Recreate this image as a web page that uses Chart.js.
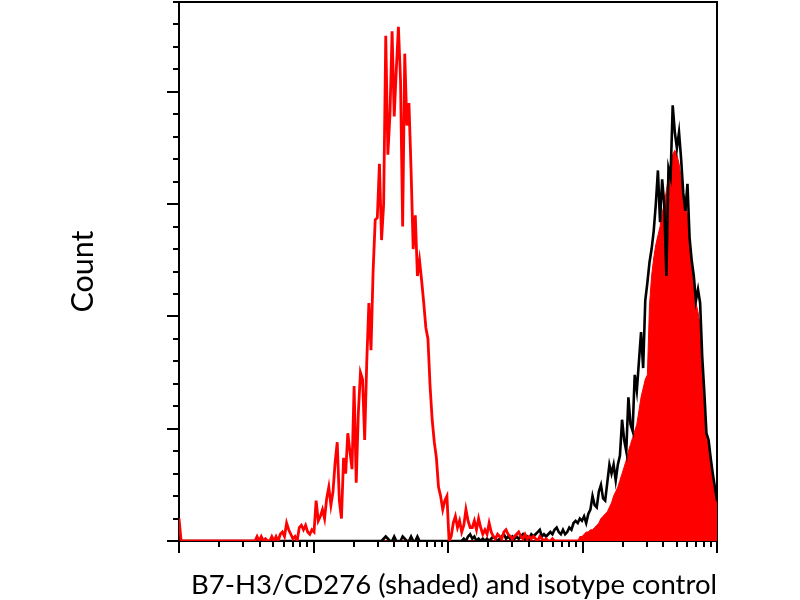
<!DOCTYPE html>
<html>
<head>
<meta charset="utf-8">
<title>B7-H3/CD276 histogram</title>
<script src="https://cdn.jsdelivr.net/npm/chart.js@4.4.1/dist/chart.umd.min.js"></script>
<style>
  html, body { margin: 0; padding: 0; background: #fff; }
  #wrap { width: 800px; height: 600px; }
</style>
</head>
<body>
<div id="wrap"><canvas id="hist"></canvas></div>
<script>
// 256-channel histogram, 4 log decades across the x axis
const channelCount = 256;
const decades = [0, 1, 2, 3, 4];
const minorSteps = [2, 3, 4, 5, 6, 7, 8, 9];
const countMajorTicks = [0, 50, 100, 150, 200];
const countMinorTicks = [10, 20, 30, 40, 60, 70, 80, 90, 110, 120, 130, 140, 160, 170, 180, 190, 210, 220, 230, 240];
const countMax = 240;

// isotype control (red line): pile-up in channel 0, then a peak starting at channel 36
const isotypeFirst = [10];
const isotypeStart = 36;
const isotypeCounts = [
  0, 2, 0, 2, 0, 1, 0, 0, 2, 0, 2, 0, 3, 4, 2, 8, 5, 3, 1, 2,
  0, 6, 7, 5, 7, 4, 3, 5, 4, 18, 9, 11, 14, 10, 19, 24, 16, 22, 35, 44,
  18, 10, 37, 30, 48, 40, 32, 69, 26, 57, 75, 72, 45, 80, 106, 85, 120, 143, 144, 168,
  134, 150, 225, 172, 190, 227, 189, 210, 229, 205, 140, 217, 185, 195, 165, 130, 145, 118, 125, 116,
  106, 95, 90, 69, 54, 44, 37, 24, 20, 14, 18, 20, 0, 2, 8, 11, 6, 9, 4, 7,
  14, 9, 6, 6, 9, 5, 10, 6, 3, 5, 3, 8, 4, 2, 1, 3, 2, 1, 4, 5,
  3, 2, 1, 2, 3, 4, 2, 1, 3, 1, 2, 1, 2, 1, 0, 2, 1, 0, 1, 0,
  0, 1
];

// black outline histogram, from channel 97
const outlineStart = 97;
const outlineCounts = [
  1, 2, 1, 0, 0, 2, 0, 0, 0, 2, 1, 0, 0, 2, 0, 0, 2, 0, 0, 0,
  0, 0, 0, 0, 0, 0, 0, 0, 0, 0, 0, 0, 0, 0, 0, 0, 0, 0, 1, 0,
  2, 3, 1, 2, 0, 1, 0, 1, 0, 1, 0, 1, 2, 1, 0, 1, 2, 3, 1, 2,
  1, 2, 1, 2, 1, 2, 3, 1, 2, 1, 3, 2, 3, 4, 5, 2, 3, 2, 3, 4,
  3, 5, 6, 4, 3, 5, 3, 4, 6, 5, 8, 9, 8, 10, 9, 11, 8, 12, 14, 20,
  16, 15, 22, 25, 19, 18, 26, 34, 30, 34, 27, 34, 38, 54, 45, 40, 64, 52, 49, 74,
  67, 80, 93, 77, 107, 115, 124, 130, 138, 150, 165, 142, 161, 150, 118, 166, 162, 194, 182, 175,
  182, 170, 155, 147, 159, 135, 125, 118, 107, 112, 106, 82, 66, 48, 45, 37, 30, 24, 18
];

// B7-H3/CD276 shaded histogram (red fill), from channel 190
const shadedStart = 190;
const shadedCounts = [
  2, 2, 3, 4, 4, 5, 5, 6, 7, 8, 10, 11, 12, 13, 15, 17, 20, 22, 24, 27,
  30, 33, 36, 40, 43, 46, 49, 52, 58, 64, 68, 72, 74, 105, 118, 126, 132, 136, 140, 146,
  150, 156, 162, 168, 172, 174, 172, 168, 162, 155, 150, 145, 133, 122, 114, 106, 102, 96, 78, 62,
  46, 42, 34, 27, 21, 15
];

const channels = Array.from({ length: channelCount }, (_, i) => i);

function placeCounts(segments) {
  const out = new Array(channelCount).fill(0);
  segments.forEach(([start, values]) => {
    values.forEach((v, i) => { out[start + i] = v; });
  });
  return out;
}

const isotypeData = placeCounts([[0, isotypeFirst], [isotypeStart, isotypeCounts]]);
const outlineData = placeCounts([[outlineStart, outlineCounts]]);
const shadedData = placeCounts([[shadedStart, shadedCounts]]);

const lastChannel = channelCount - 1;
const decadeToChannel = d => d * lastChannel / (decades.length - 1);
const xMajor = decades.map(decadeToChannel);
const xMinor = [];
decades.slice(0, -1).forEach(d => {
  minorSteps.forEach(k => xMinor.push(decadeToChannel(d + Math.log10(k))));
});

const LEFT = 179, RIGHT = 717, TOP = 2, BOTTOM = 541;
const axisBlack = '#000';

function fixedSize(size) {
  return scale => {
    if (scale.isHorizontal()) scale.height = size; else scale.width = size;
  };
}
function setTicks(values) {
  return scale => { scale.ticks = values.map(v => ({ value: v })); };
}

new Chart(document.getElementById('hist'), {
  type: 'line',
  data: {
    labels: channels,
    datasets: [
      {
        label: 'Isotype control',
        data: isotypeData,
        borderColor: '#ff0000',
        borderWidth: 2.8,
        pointRadius: 0,
        tension: 0,
        fill: false
      },
      {
        label: 'B7-H3/CD276 outline',
        data: outlineData,
        borderColor: '#000000',
        borderWidth: 2.6,
        pointRadius: 0,
        tension: 0,
        fill: false
      },
      {
        label: 'B7-H3/CD276 (shaded)',
        data: shadedData,
        borderColor: '#ff0000',
        backgroundColor: '#ff0000',
        borderWidth: 1,
        pointRadius: 0,
        tension: 0,
        fill: 'origin'
      }
    ]
  },
  options: {
    responsive: true,
    maintainAspectRatio: false,
    devicePixelRatio: 1,
    animation: false,
    layout: { padding: { left: 0, right: 800 - RIGHT, top: TOP, bottom: 0 } },
    plugins: { legend: { display: false }, tooltip: { enabled: false } },
    scales: {
      x: {
        type: 'linear', position: 'bottom', weight: 1,
        min: 0, max: lastChannel,
        afterBuildTicks: setTicks(xMajor),
        afterFit: fixedSize(600 - BOTTOM),
        ticks: { display: false },
        grid: { drawOnChartArea: false, tickLength: 12, color: axisBlack, lineWidth: 2 },
        border: { display: true, color: axisBlack, width: 2 },
        title: {
          display: true,
          text: 'B7-H3/CD276 (shaded) and isotype control',
          align: 'end',
          color: '#000',
          font: { family: 'Lato', size: 27.5, lineHeight: 1 },
          padding: { top: 0, bottom: 1 }
        }
      },
      xMinor: {
        type: 'linear', position: 'bottom', weight: 0,
        min: 0, max: lastChannel,
        afterBuildTicks: setTicks(xMinor),
        afterFit: fixedSize(0),
        ticks: { display: false },
        grid: { drawOnChartArea: false, tickLength: 6, color: axisBlack, lineWidth: 2 },
        border: { display: false }
      },
      xTop: {
        type: 'linear', position: 'top',
        min: 0, max: lastChannel,
        afterFit: fixedSize(0),
        ticks: { display: false },
        grid: { display: false, drawTicks: false },
        border: { display: true, color: axisBlack, width: 2 }
      },
      y: {
        type: 'linear', position: 'left', weight: 1,
        min: 0, max: countMax,
        afterBuildTicks: setTicks(countMajorTicks),
        afterFit: fixedSize(LEFT),
        ticks: { display: false },
        grid: { drawOnChartArea: false, tickLength: 12, color: axisBlack, lineWidth: 2 },
        border: { display: true, color: axisBlack, width: 2 },
        title: {
          display: true,
          text: 'Count',
          color: '#000',
          font: { family: 'Lato', size: 30.5 },
          padding: { top: 65, bottom: 0 }
        }
      },
      yMinor: {
        type: 'linear', position: 'left', weight: 0,
        min: 0, max: countMax,
        afterBuildTicks: setTicks(countMinorTicks),
        afterFit: fixedSize(0),
        ticks: { display: false },
        grid: { drawOnChartArea: false, tickLength: 6, color: axisBlack, lineWidth: 2 },
        border: { display: false }
      },
      yRight: {
        type: 'linear', position: 'right',
        min: 0, max: countMax,
        afterFit: fixedSize(0),
        ticks: { display: false },
        grid: { display: false, drawTicks: false },
        border: { display: true, color: axisBlack, width: 2 }
      }
    }
  }
});
</script>
</body>
</html>
